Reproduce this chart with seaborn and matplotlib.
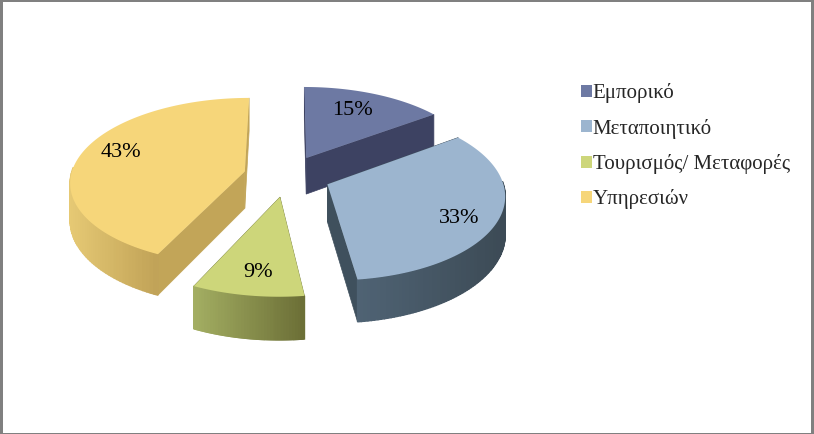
import numpy as np
import matplotlib
matplotlib.use("Agg")
import matplotlib.pyplot as plt
from matplotlib.patches import Patch
import seaborn as sns

# ============================================================
# 1. Data
# ============================================================
categories = ['Εμπορικό', 'Μεταποιητικό', 'Τουρισμός/ Μεταφορές', 'Υπηρεσιών']
values = [15, 33, 9, 43]

top_colors = ['#6d79a3', '#9cb5cf', '#cdd67a', '#f6d67a']
radial_colors = ['#3d4262', '#3f505d', '#7f8648', '#c2a558']
arc_left_colors = ['#3d4262', '#4f6374', '#a3ae62', '#e6c974']
arc_right_colors = ['#3d4262', '#3c4a55', '#6b6e36', '#c0a257']

# ============================================================
# 2. Theme + figure
# ============================================================
sns.set_theme(style='white')
plt.rcParams['font.family'] = ['Liberation Serif', 'DejaVu Serif']

fig = plt.figure(figsize=(8.14, 4.34), dpi=100)
ax = fig.add_axes([0, 0, 1, 1])

# pie gives the slice angles and exploded centres, the tilted drawing uses them below
wedges, _, pct_texts = ax.pie(values, startangle=90, counterclock=False,
                              explode=[0.25] * len(values), autopct='%.0f%%',
                              pctdistance=0.75)
for w in wedges:
    w.set_visible(False)

ax.set_aspect('auto')
ax.set_xlim(0, 814)
ax.set_ylim(434, 0)


# ============================================================
# 3. Tilted view of the pie
# ============================================================
def project(x, y, drop=0.0):
    f = 1 / (1 + 0.1146 * y)
    return 287 + 174 * x * f, 176 - 83 * y * f + 37 * drop * f


def outline(w, n=120):
    th = np.radians(np.linspace(w.theta1, w.theta2, n))
    return w.center[0] + np.cos(th), w.center[1] + np.sin(th), th


# back to front so the nearer slices cover the far ones
for i in [0, 3, 1, 2]:
    w = wedges[i]
    cx, cy = w.center
    ax_, ay_, th = outline(w)

    # straight cut faces
    for ex, ey in [(ax_[0], ay_[0]), (ax_[-1], ay_[-1])]:
        x0, y0 = project(cx, cy)
        x1, y1 = project(ex, ey)
        x2, y2 = project(ex, ey, 1)
        x3, y3 = project(cx, cy, 1)
        ax.fill([x0, x1, x2, x3], [y0, y1, y2, y3], color=radial_colors[i], lw=0.5, zorder=2 + i)

    # rim, only the part that faces the viewer
    front = np.sin(th) <= 0.05
    if front.sum() > 1:
        idx = np.where(front)[0]
        px_front, _ = project(ax_[idx], ay_[idx])
        shades = sns.blend_palette([arc_left_colors[i], arc_right_colors[i]], 40)
        lo, hi = px_front.min(), px_front.max()
        for a, b in zip(idx[:-1], idx[1:]):
            xa, ya = project(ax_[a], ay_[a])
            xb, yb = project(ax_[b], ay_[b])
            xc, yc = project(ax_[b], ay_[b], 1)
            xd, yd = project(ax_[a], ay_[a], 1)
            k = int(((xa + xb) / 2 - lo) / (hi - lo) * 39)
            ax.fill([xa, xb, xc, xd], [ya, yb, yc, yd], color=shades[k], lw=1.0, zorder=2 + i)

    # top surface
    px, py = project(np.r_[cx, ax_], np.r_[cy, ay_])
    ax.fill(px, py, color=top_colors[i], lw=0, zorder=2 + i)

# ============================================================
# 4. Percent labels
# ============================================================
label_nudge = [(-6, 2), (5, 8), (2, 4), (0, -6)]
for t, (dx, dy) in zip(pct_texts, label_nudge):
    x, y = t.get_position()
    px, py = project(x, y)
    t.set_position((px + dx, py + dy))
    t.set_fontsize(16)
    t.set_color('black')
    t.set_zorder(10)

# ============================================================
# 5. Legend + border
# ============================================================
handles = [Patch(facecolor=c, edgecolor='none', label=l) for c, l in zip(top_colors, categories)]
ax.legend(handles=handles, loc='upper left', bbox_to_anchor=(578 / 814, 1 - 80 / 434),
          frameon=False, fontsize=15, handlelength=0.5, handleheight=0.5,
          handletextpad=0.05, labelspacing=0.74, borderaxespad=0, borderpad=0.15)

ax.set_frame_on(True)
for side, lw in [('left', 6), ('right', 6), ('top', 4), ('bottom', 3)]:
    ax.spines[side].set_visible(True)
    ax.spines[side].set_color('#808080')
    ax.spines[side].set_linewidth(lw * 0.72)

fig.savefig('out.png', dpi=100)
